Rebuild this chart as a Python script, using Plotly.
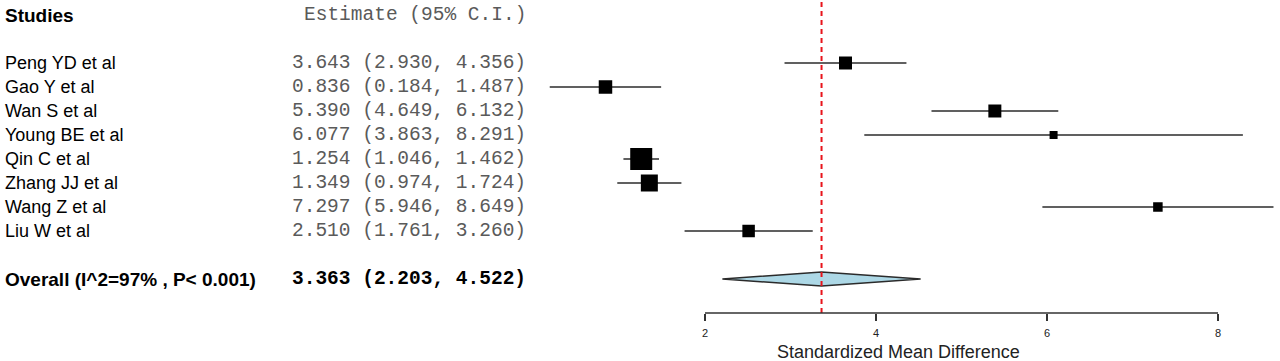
import plotly.graph_objects as go

# ---- data ----
studies = ["Peng YD et al", "Gao Y et al", "Wan S et al", "Young BE et al",
           "Qin C et al", "Zhang JJ et al", "Wang Z et al", "Liu W et al"]
estimates = [3.643, 0.836, 5.390, 6.077, 1.254, 1.349, 7.297, 2.510]
lower = [2.930, 0.184, 4.649, 3.863, 1.046, 0.974, 5.946, 1.761]
upper = [4.356, 1.487, 6.132, 8.291, 1.462, 1.724, 8.649, 3.260]
box_sizes = [13, 13.5, 13, 8, 22, 17, 9.5, 12.5]   # relative study weights (marker size)
overall_label = "Overall (I^2=97% , P< 0.001)"
overall_est, overall_lo, overall_hi = 3.363, 2.203, 4.522
tick_vals = [2, 4, 6, 8]
x_title = "Standardized Mean Difference"

# ---- layout constants ----
W, H = 1280, 361
PX_PER_UNIT = 85.5
X0_PX = 534.0            # pixel of x=0
ROW_PX = 24.0
ROW0_PX = 15.0           # pixel of row 0 (header)
AXIS_PX = 313.0          # bottom of plot area (axis line)

x_range = [-X0_PX / PX_PER_UNIT, (W - X0_PX) / PX_PER_UNIT]
y_range = [(AXIS_PX - ROW0_PX) / ROW_PX, -ROW0_PX / ROW_PX]

study_rows = list(range(2, 2 + len(studies)))
overall_row = study_rows[-1] + 2

def px2paper(px):
    return px / W

fig = go.Figure()

# CI lines
cx, cy = [], []
for lo, hi, r in zip(lower, upper, study_rows):
    cx += [lo, hi, None]
    cy += [r, r, None]
fig.add_trace(go.Scatter(x=cx, y=cy, mode="lines",
                         line=dict(color="#2b2b2b", width=1.5),
                         hoverinfo="skip", showlegend=False))

# boxes
fig.add_trace(go.Scatter(x=estimates, y=study_rows, mode="markers",
                         marker=dict(symbol="square", size=box_sizes, color="black",
                                     opacity=1, line=dict(width=0)),
                         showlegend=False))

# reference dashed line at overall estimate
fig.add_shape(type="line", xref="x", yref="paper", x0=overall_est, x1=overall_est,
              y0=0, y1=1, line=dict(color="#e8141b", width=2, dash="5px,4px"),
              layer="above")

# diamond
hh = 0.29
fig.add_trace(go.Scatter(x=[overall_lo, overall_est, overall_hi, overall_est, overall_lo],
                         y=[overall_row, overall_row - hh, overall_row, overall_row + hh, overall_row],
                         mode="lines", fill="toself", fillcolor="#add8e6",
                         line=dict(color="#2b2b2b", width=1.5),
                         hoverinfo="skip", showlegend=False))

# axis line spanning tick range
fig.add_shape(type="line", xref="x", yref="paper", x0=min(tick_vals), x1=max(tick_vals),
              y0=0, y1=0, line=dict(color="#333333", width=1.5))

# text columns
SANS = "Liberation Sans, Arial, sans-serif"
MONO = "Liberation Mono, Courier New, monospace"
name_font = dict(family=SANS, size=18, color="black")
mono_font = dict(family=MONO, size=19.5, color="#5a5a5a")
NAME_X = px2paper(3)
EST_X = px2paper(528)

fig.add_annotation(x=NAME_X, y=0, xref="paper", yref="y", text="<b>Studies</b>",
                   showarrow=False, xanchor="left", yanchor="middle",
                   font=dict(family=SANS, size=19, color="black"))
fig.add_annotation(x=EST_X, y=0, xref="paper", yref="y", text="Estimate (95% C.I.)",
                   showarrow=False, xanchor="right", yanchor="middle", font=mono_font)

for name, e, lo, hi, r in zip(studies, estimates, lower, upper, study_rows):
    fig.add_annotation(x=NAME_X, y=r, xref="paper", yref="y", text=name,
                       showarrow=False, xanchor="left", yanchor="middle", font=name_font)
    fig.add_annotation(x=EST_X, y=r, xref="paper", yref="y",
                       text=f"{e:.3f} ({lo:.3f}, {hi:.3f})",
                       showarrow=False, xanchor="right", yanchor="middle", font=mono_font)

fig.add_annotation(x=NAME_X, y=overall_row, xref="paper", yref="y",
                   text=f"<b>{overall_label}</b>", showarrow=False,
                   xanchor="left", yanchor="middle",
                   font=dict(family=SANS, size=19, color="black"))
fig.add_annotation(x=EST_X, y=overall_row, xref="paper", yref="y",
                   text=f"<b>{overall_est:.3f} ({overall_lo:.3f}, {overall_hi:.3f})</b>",
                   showarrow=False, xanchor="right", yanchor="middle",
                   font=dict(family=MONO, size=19.5, color="black"))

# axis title
fig.add_annotation(x=px2paper(898), y=-(352 - AXIS_PX) / AXIS_PX, xref="paper", yref="paper",
                   text=x_title, showarrow=False, xanchor="center", yanchor="middle",
                   font=dict(family=SANS, size=18, color="#222222"))

fig.update_layout(
    width=W, height=H,
    margin=dict(l=0, r=0, t=0, b=H - AXIS_PX),
    plot_bgcolor="white", paper_bgcolor="white",
    xaxis=dict(range=x_range, showgrid=False, zeroline=False, showline=False,
               tickvals=tick_vals, ticktext=[str(v) for v in tick_vals],
               ticks="outside", ticklen=7, tickwidth=1.5, tickcolor="#333333",
               ticklabelstandoff=3,
               tickfont=dict(family=SANS, size=11, color="#222222"),
               fixedrange=True),
    yaxis=dict(range=y_range, showgrid=False, zeroline=False, showline=False,
               showticklabels=False, ticks="", fixedrange=True),
    showlegend=False,
)

fig.write_html("out.html", config={"displayModeBar": False},
               post_script="document.body.style.margin='0';")
